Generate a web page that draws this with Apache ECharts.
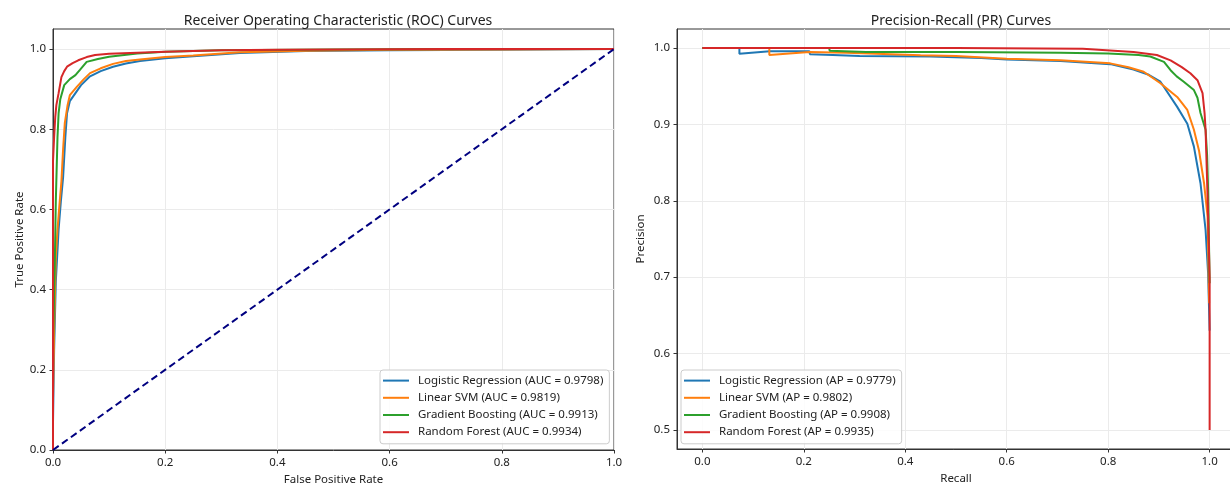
<!DOCTYPE html>
<html>
<head>
<meta charset="utf-8">
<script src="https://cdn.jsdelivr.net/npm/echarts@6/dist/echarts.min.js"></script>
<style>
  html, body { margin: 0; padding: 0; background: #fff; }
  #chart { width: 1230px; height: 484px; }
</style>
</head>
<body>
<div id="chart"></div>
<script>
// model names + scores
const models = ['Logistic Regression', 'Linear SVM', 'Gradient Boosting', 'Random Forest'];
const aucScores = ['0.9798', '0.9819', '0.9913', '0.9934'];
const apScores = ['0.9779', '0.9802', '0.9908', '0.9935'];
const colors = ['#1f77b4', '#ff7f0e', '#2ca02c', '#d62728'];

// tick labels
const rocTicks = [0, 0.2, 0.4, 0.6, 0.8, 1.0];
const prXTicks = [0, 0.2, 0.4, 0.6, 0.8, 1.0];
const prYTicks = [0.5, 0.6, 0.7, 0.8, 0.9, 1.0];

// ROC curves [fpr, tpr]
const rocLR = [[0,0],[0,0.07],[0.002,0.25],[0.005,0.42],[0.01,0.55],[0.014,0.62],[0.018,0.68],[0.022,0.78],[0.025,0.84],[0.03,0.87],[0.04,0.89],[0.05,0.91],[0.066,0.932],[0.085,0.945],[0.107,0.956],[0.13,0.964],[0.155,0.97],[0.2,0.977],[0.25,0.982],[0.333,0.99],[0.45,0.995],[0.6,0.997],[0.8,0.998],[1,1]];
const rocSVM = [[0,0],[0,0.13],[0.002,0.3],[0.005,0.48],[0.008,0.55],[0.012,0.62],[0.015,0.67],[0.018,0.75],[0.021,0.815],[0.026,0.86],[0.03,0.885],[0.042,0.905],[0.055,0.925],[0.066,0.94],[0.085,0.952],[0.107,0.963],[0.13,0.97],[0.155,0.974],[0.2,0.98],[0.25,0.984],[0.333,0.992],[0.45,0.996],[0.6,0.998],[0.8,0.999],[1,1]];
const rocGB = [[0,0],[0,0.25],[0.003,0.45],[0.005,0.62],[0.008,0.78],[0.01,0.84],[0.013,0.875],[0.02,0.91],[0.03,0.925],[0.04,0.935],[0.048,0.948],[0.06,0.968],[0.08,0.975],[0.1,0.981],[0.15,0.989],[0.2,0.993],[0.3,0.997],[0.5,0.999],[0.7,1],[1,1]];
const rocRF = [[0,0],[0,0.72],[0.002,0.78],[0.004,0.83],[0.006,0.86],[0.01,0.89],[0.015,0.93],[0.02,0.945],[0.025,0.956],[0.035,0.965],[0.045,0.972],[0.06,0.98],[0.075,0.985],[0.1,0.988],[0.15,0.991],[0.2,0.993],[0.3,0.997],[0.4,0.998],[0.5,0.999],[0.7,1],[1,1]];
const diagonal = [[0,0],[1,1]];

// PR curves [recall, precision]
const prLR = [[0,1],[0.073,1],[0.073,0.9925],[0.133,0.996],[0.211,0.996],[0.212,0.992],[0.257,0.9908],[0.31,0.9895],[0.45,0.989],[0.55,0.987],[0.6,0.985],[0.706,0.983],[0.804,0.979],[0.85,0.972],[0.88,0.965],[0.903,0.956],[0.91,0.949],[0.936,0.923],[0.956,0.901],[0.969,0.871],[0.976,0.845],[0.982,0.823],[0.992,0.762],[0.997,0.705],[1,0.63]];
const prSVM = [[0,1],[0.132,1],[0.132,0.991],[0.211,0.995],[0.284,0.994],[0.285,0.9915],[0.43,0.9905],[0.5,0.9895],[0.6,0.986],[0.706,0.984],[0.804,0.98],[0.84,0.975],[0.87,0.969],[0.903,0.954],[0.936,0.936],[0.956,0.919],[0.969,0.893],[0.979,0.866],[0.989,0.823],[0.996,0.779],[0.999,0.666]];
const prGB = [[0,1],[0.25,1],[0.251,0.9965],[0.323,0.995],[0.5,0.995],[0.706,0.994],[0.8,0.993],[0.86,0.991],[0.883,0.989],[0.91,0.982],[0.923,0.971],[0.935,0.963],[0.949,0.956],[0.969,0.945],[0.976,0.935],[0.982,0.915],[0.992,0.893],[0.995,0.86],[0.997,0.814],[1,0.692]];
const prRF = [[0,1],[0.5,1],[0.75,0.999],[0.85,0.995],[0.896,0.991],[0.923,0.984],[0.945,0.975],[0.962,0.967],[0.976,0.958],[0.986,0.941],[0.99,0.915],[0.992,0.893],[0.995,0.827],[0.997,0.78],[1,0.7],[1,0.5]];

const rocData = [rocLR, rocSVM, rocGB, rocRF];
const prData = [prLR, prSVM, prGB, prRF];

const FONT = 'Noto Sans';
const gridLine = { show: true, lineStyle: { color: '#ebebeb', width: 1 } };
const tickStyle = { show: true, length: 3.5, lineStyle: { color: '#333' } };
const labelStyle = { color: '#222', fontSize: 11.5, fontFamily: FONT, margin: 7 };
const fmt = v => Number(v).toFixed(1);

function axis(gridIndex, min, max, ticks, name, gap) {
    return {
        type: 'value', gridIndex, min, max,
        name, nameLocation: 'middle', nameGap: gap,
        nameTextStyle: { color: '#222', fontSize: 11.5, fontFamily: FONT },
        axisLine: { show: true, onZero: false, lineStyle: { color: '#333', width: 1 } },
        axisTick: Object.assign({ customValues: ticks }, tickStyle),
        axisLabel: Object.assign({ customValues: ticks, formatter: fmt }, labelStyle),
        splitLine: gridLine
    };
}

function legend(left, names) {
    return {
        orient: 'vertical', left, top: 370,
        data: names,
        icon: 'rect', itemWidth: 26, itemHeight: 2, itemGap: 4,
        padding: [4, 6, 5, 3],
        backgroundColor: 'rgba(255,255,255,0.85)',
        borderColor: '#cccccc', borderWidth: 1, borderRadius: 3,
        textStyle: { fontSize: 11.5, fontFamily: FONT, color: '#222', lineHeight: 13.2, padding: [0, 0, 0, 4] }
    };
}

const rocNames = models.map((m, i) => m + ' (AUC = ' + aucScores[i] + ')');
const prNames = models.map((m, i) => m + ' (AP = ' + apScores[i] + ')');

const series = [];
rocData.forEach((d, i) => series.push({
    name: rocNames[i], type: 'line', xAxisIndex: 0, yAxisIndex: 0,
    data: d, showSymbol: false, symbol: 'none', color: colors[i],
    lineStyle: { width: 2, color: colors[i] }
}));
series.push({
    name: 'diag', type: 'line', xAxisIndex: 0, yAxisIndex: 0,
    data: diagonal, symbol: 'none', color: '#000080',
    lineStyle: { width: 2, type: [7, 4], color: '#000080' }
});
prData.forEach((d, i) => series.push({
    name: prNames[i], type: 'line', xAxisIndex: 1, yAxisIndex: 1,
    data: d, showSymbol: false, symbol: 'none', color: colors[i],
    lineStyle: { width: 2, color: colors[i] }
}));

const option = {
    animation: false,
    backgroundColor: '#fff',
    title: [
        { text: 'Receiver Operating Characteristic (ROC) Curves', left: 333, top: 9, textAlign: 'center',
          textStyle: { fontSize: 14, fontWeight: 'normal', fontFamily: FONT, color: '#222' } },
        { text: 'Precision-Recall (PR) Curves', left: 956, top: 9, textAlign: 'center',
          textStyle: { fontSize: 14, fontWeight: 'normal', fontFamily: FONT, color: '#222' } }
    ],
    grid: [
        { left: 53, width: 561, top: 29, height: 421, outerBoundsMode: 'none', containLabel: false,
          show: true, borderColor: '#333', borderWidth: 1 },
        { left: 677, width: 558, top: 29, height: 420, outerBoundsMode: 'none', containLabel: false,
          show: true, borderColor: '#333', borderWidth: 1 }
    ],
    xAxis: [
        axis(0, 0, 1, rocTicks, 'False Positive Rate', 22),
        axis(1, -0.05, 1.05, prXTicks, 'Recall', 22)
    ],
    yAxis: [
        axis(0, 0, 1.05, rocTicks, 'True Positive Rate', 27),
        axis(1, 0.475, 1.025, prYTicks, 'Precision', 30)
    ],
    legend: [legend(380, rocNames), legend(681, prNames)],
    series
};

const chart = echarts.init(document.getElementById('chart'));
chart.setOption(option);
</script>
</body>
</html>
